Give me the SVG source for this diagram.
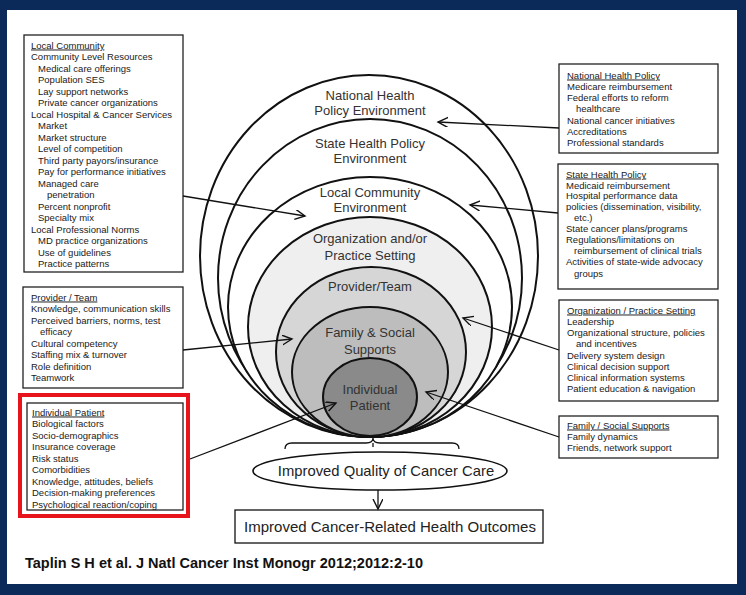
<svg xmlns="http://www.w3.org/2000/svg" width="746" height="595" viewBox="0 0 746 595">
<defs>
<style>
.bx{fill:#fff;stroke:#222;stroke-width:1.3}
.t{font-family:"Liberation Sans",Arial,sans-serif;font-size:9.5px;fill:#1a1a1a}
.h{text-decoration:underline}
.lbl{font-family:"Liberation Sans",Arial,sans-serif;font-size:13px;fill:#333;text-anchor:middle}
.ring{stroke:#111;stroke-width:2}
.con{fill:none;stroke:#111;stroke-width:1.3}
</style>
<marker id="ah" markerWidth="12" markerHeight="12" refX="10" refY="5" orient="auto" markerUnits="userSpaceOnUse">
<path d="M0,0 L10,5 L0,10" fill="none" stroke="#111" stroke-width="1.4"/>
</marker>
</defs>
<rect x="0" y="0" width="746" height="595" fill="#0b2a5a"/>
<rect x="7" y="10" width="730" height="574" fill="#fff"/>

<g id="rings">
<ellipse id="n-national" class="ring" cx="369" cy="256" rx="169" ry="181" fill="#fff"/>
<ellipse id="n-state" class="ring" cx="370" cy="278" rx="152" ry="159" fill="#fff"/>
<ellipse id="n-local" class="ring" cx="370" cy="307" rx="142" ry="130" fill="#fff"/>
<ellipse id="n-org" class="ring" cx="370" cy="327" rx="122" ry="110" fill="#efefef"/>
<ellipse id="n-provider" class="ring" cx="371" cy="352" rx="95" ry="85" fill="#d6d6d6"/>
<ellipse id="n-family" class="ring" cx="370" cy="372" rx="78" ry="65" fill="#bdbdbd"/>
<ellipse id="n-individual" class="ring" cx="370" cy="397" rx="47" ry="39" fill="#8a8a8a"/>
<text class="lbl" x="370" y="100">National Health</text>
<text class="lbl" x="370" y="115">Policy Environment</text>
<text class="lbl" x="370" y="148">State Health Policy</text>
<text class="lbl" x="370" y="163">Environment</text>
<text class="lbl" x="370" y="197">Local Community</text>
<text class="lbl" x="370" y="212">Environment</text>
<text class="lbl" x="370" y="243">Organization and/or</text>
<text class="lbl" x="370" y="260">Practice Setting</text>
<text class="lbl" x="370" y="291">Provider/Team</text>
<text class="lbl" x="370" y="337">Family &amp; Social</text>
<text class="lbl" x="370" y="354">Supports</text>
<text class="lbl" x="370" y="394">Individual</text>
<text class="lbl" x="370" y="410">Patient</text>
</g>

<g id="n-box-local">
<rect class="bx" x="24" y="35" width="159" height="237"/>
<text class="t">
<tspan class="h" x="31" y="48.5">Local Community</tspan>
<tspan x="31" y="60">Community Level Resources</tspan>
<tspan x="38" y="71.5">Medical care offerings</tspan>
<tspan x="38" y="83">Population SES</tspan>
<tspan x="38" y="94.5">Lay support networks</tspan>
<tspan x="38" y="106">Private cancer organizations</tspan>
<tspan x="31" y="117.5">Local Hospital &amp; Cancer Services</tspan>
<tspan x="38" y="129">Market</tspan>
<tspan x="38" y="140.5">Market structure</tspan>
<tspan x="38" y="152">Level of competition</tspan>
<tspan x="38" y="163.5">Third party payors/insurance</tspan>
<tspan x="38" y="175">Pay for performance initiatives</tspan>
<tspan x="38" y="186.5">Managed care</tspan>
<tspan x="47" y="198">penetration</tspan>
<tspan x="38" y="209.5">Percent nonprofit</tspan>
<tspan x="38" y="221">Specialty mix</tspan>
<tspan x="31" y="232.5">Local Professional Norms</tspan>
<tspan x="38" y="244">MD practice organizations</tspan>
<tspan x="38" y="255.5">Use of guidelines</tspan>
<tspan x="38" y="267">Practice patterns</tspan>
</text>
</g>

<g id="n-box-provider">
<rect class="bx" x="23" y="287" width="160" height="101"/>
<text class="t">
<tspan class="h" x="31" y="300.5">Provider / Team</tspan>
<tspan x="31" y="312">Knowledge, communication skills</tspan>
<tspan x="31" y="323.5">Perceived barriers, norms, test</tspan>
<tspan x="40" y="335">efficacy</tspan>
<tspan x="31" y="346.5">Cultural competency</tspan>
<tspan x="31" y="358">Staffing mix &amp; turnover</tspan>
<tspan x="31" y="369.5">Role definition</tspan>
<tspan x="31" y="381">Teamwork</tspan>
</text>
</g>

<g id="n-box-individual">
<rect x="20" y="395" width="168" height="121" fill="none" stroke="#e8141b" stroke-width="4"/>
<rect class="bx" x="27" y="403" width="156" height="107"/>
<text class="t">
<tspan class="h" x="32" y="415.5">Individual Patient</tspan>
<tspan x="32" y="427">Biological factors</tspan>
<tspan x="32" y="438.5">Socio-demographics</tspan>
<tspan x="32" y="450">Insurance coverage</tspan>
<tspan x="32" y="461.5">Risk status</tspan>
<tspan x="32" y="473">Comorbidities</tspan>
<tspan x="32" y="484.5">Knowledge, attitudes, beliefs</tspan>
<tspan x="32" y="496">Decision-making preferences</tspan>
<tspan x="32" y="507.5">Psychological reaction/coping</tspan>
</text>
</g>

<g id="n-box-national">
<rect class="bx" x="559" y="64" width="159" height="89"/>
<text class="t">
<tspan class="h" x="567" y="78.5">National Health Policy</tspan>
<tspan x="567" y="89.5">Medicare reimbursement</tspan>
<tspan x="567" y="101">Federal efforts to reform</tspan>
<tspan x="576" y="112">healthcare</tspan>
<tspan x="567" y="123.5">National cancer initiatives</tspan>
<tspan x="567" y="134.5">Accreditations</tspan>
<tspan x="567" y="145.5">Professional standards</tspan>
</text>
</g>

<g id="n-box-state">
<rect class="bx" x="558" y="164" width="160" height="125"/>
<text class="t">
<tspan class="h" x="566" y="177.5">State Health Policy</tspan>
<tspan x="566" y="188.5">Medicaid reimbursement</tspan>
<tspan x="566" y="199">Hospital performance data</tspan>
<tspan x="566" y="209.5">policies (dissemination, visibility,</tspan>
<tspan x="574" y="220.5">etc.)</tspan>
<tspan x="566" y="231.5">State cancer plans/programs</tspan>
<tspan x="566" y="242.5">Regulations/limitations on</tspan>
<tspan x="574" y="253.5">reimbursement of clinical trials</tspan>
<tspan x="566" y="265">Activities of state-wide advocacy</tspan>
<tspan x="574" y="276.5">groups</tspan>
</text>
</g>

<g id="n-box-org">
<rect class="bx" x="559" y="300" width="159" height="101"/>
<text class="t">
<tspan class="h" x="567" y="313.5">Organization / Practice Setting</tspan>
<tspan x="567" y="324.5">Leadership</tspan>
<tspan x="567" y="335.5">Organizational structure, policies</tspan>
<tspan x="576" y="346.5">and incentives</tspan>
<tspan x="567" y="358.5">Delivery system design</tspan>
<tspan x="567" y="369.5">Clinical decision support</tspan>
<tspan x="567" y="380.5">Clinical information systems</tspan>
<tspan x="567" y="392">Patient education &amp; navigation</tspan>
</text>
</g>

<g id="n-box-family">
<rect class="bx" x="559" y="416" width="159" height="42"/>
<text class="t">
<tspan class="h" x="567" y="428.5">Family / Social Supports</tspan>
<tspan x="567" y="439.5">Family dynamics</tspan>
<tspan x="567" y="450.5">Friends, network support</tspan>
</text>
</g>

<g id="n-quality">
<ellipse cx="380" cy="471" rx="127" ry="19" fill="#fff" stroke="#111" stroke-width="1.6"/>
<text x="386" y="476" font-family="Liberation Sans, Arial, sans-serif" font-size="14.8" fill="#222" text-anchor="middle">Improved Quality of Cancer Care</text>
</g>

<g id="n-outcomes">
<rect x="235" y="510" width="308" height="33" fill="#fff" stroke="#111" stroke-width="1.3"/>
<text x="390" y="532" font-family="Liberation Sans, Arial, sans-serif" font-size="15" fill="#222" text-anchor="middle">Improved Cancer-Related Health Outcomes</text>
</g>

<g id="connectors">
<path class="con" d="M285,449 Q285,443 292,443 L366,443 Q373,443 373,438 Q373,443 380,443 L452,443 Q459,443 459,449"/>
<path class="con" d="M373,443 L373,447"/>
<path class="con" d="M378,490 L378,509" marker-end="url(#ah)"/>
<path class="con" d="M183,196 L305,216" marker-end="url(#ah)"/>
<path class="con" d="M559,128 L438,122" marker-end="url(#ah)"/>
<path class="con" d="M558,213 L470,205" marker-end="url(#ah)"/>
<path class="con" d="M183,350 L292,339" marker-end="url(#ah)"/>
<path class="con" d="M559,350 L463,318" marker-end="url(#ah)"/>
<path class="con" d="M559,437 L426,392" marker-end="url(#ah)"/>
<path class="con" d="M190,459 L336,403" marker-end="url(#ah)"/>
</g>

<text x="25" y="568" font-family="Liberation Sans, Arial, sans-serif" font-size="14.5" font-weight="bold" fill="#111" textLength="398" lengthAdjust="spacingAndGlyphs">Taplin S H et al. J Natl Cancer Inst Monogr 2012;2012:2-10</text>
</svg>
